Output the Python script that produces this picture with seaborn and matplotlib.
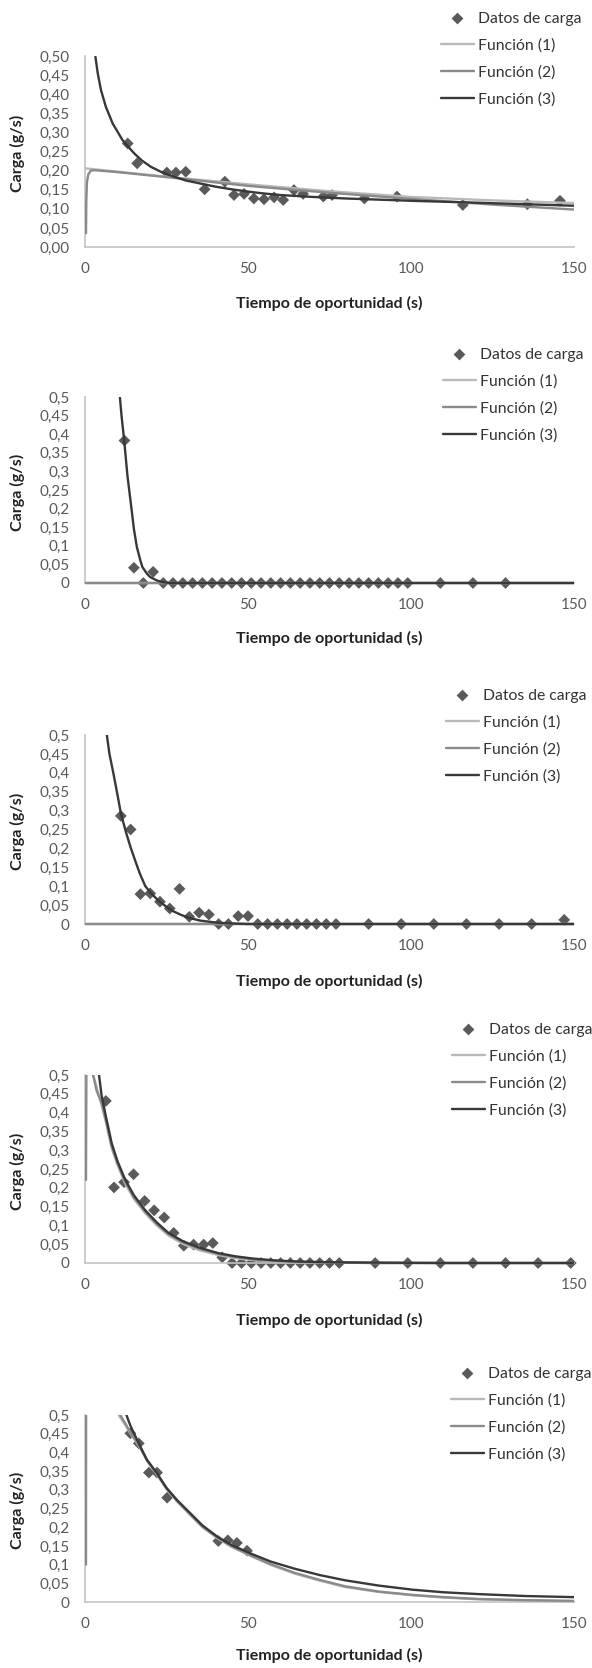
import matplotlib
matplotlib.use("Agg")
import matplotlib.pyplot as plt
import seaborn as sns

sns.set_style("white")
plt.rcParams["font.family"] = ["Lato", "DejaVu Sans"]

# ==========================================
# Data
# ==========================================

# Panel 1
t1_data = [13.1, 16.0, 25.1, 27.9, 30.9, 36.7, 42.9, 45.7, 48.8, 51.8, 54.9,
           58.0, 60.8, 64.1, 66.9, 73.1, 75.8, 85.7, 95.7, 115.9, 135.7, 145.7]
c1_data = [0.271, 0.219, 0.195, 0.195, 0.197, 0.151, 0.171, 0.136, 0.139, 0.127, 0.125,
           0.130, 0.123, 0.149, 0.139, 0.132, 0.136, 0.127, 0.132, 0.110, 0.112, 0.121]
p1_f1_x = [0, 25, 50, 75, 100, 125, 150]
p1_f1_y = [0.206, 0.184, 0.164, 0.146, 0.131, 0.122, 0.115]
p1_f2_x = [0.3, 0.4, 0.6, 1.0, 1.8, 3, 10, 25, 50, 75, 100, 125, 150]
p1_f2_y = [0.036, 0.12, 0.17, 0.19, 0.200, 0.201, 0.196, 0.183, 0.160, 0.142, 0.126, 0.111, 0.098]
p1_f3_x = [3.2, 3.9, 4.9, 6.4, 8.5, 11.5, 13.1, 15.1, 17.5, 20.2, 23.5, 27.3, 31, 35.5,
           40, 45, 50, 55, 60, 70, 80, 100, 120, 150]
p1_f3_y = [0.498, 0.455, 0.411, 0.367, 0.323, 0.280, 0.264, 0.245, 0.226, 0.210, 0.196, 0.184, 0.174, 0.166,
           0.158, 0.151, 0.145, 0.140, 0.136, 0.131, 0.127, 0.121, 0.116, 0.108]

# Panel 2
t2_data = [12.1, 15.0, 17.9, 20.9, 24, 27, 30, 33, 36, 39, 42, 45, 48, 51, 54, 57,
           60, 63, 66, 69, 72, 75, 78, 81, 84, 87, 90, 93, 96, 99, 109, 119, 129]
c2_data = [0.383, 0.041, 0.0, 0.030, 0, 0, 0, 0, 0, 0, 0, 0, 0, 0, 0, 0,
           0, 0, 0, 0, 0, 0, 0, 0, 0, 0, 0, 0, 0, 0, 0, 0, 0]
p2_f1_x = [0, 150]
p2_f1_y = [0.0, 0.0]
p2_f2_x = [0, 150]
p2_f2_y = [0.0, 0.0]
p2_f3_x = [10.7, 11.2, 12, 13, 14.2, 15, 15.9, 17, 17.6, 19, 20, 22, 23.5, 26, 150]
p2_f3_y = [0.5, 0.45, 0.385, 0.29, 0.204, 0.145, 0.097, 0.06, 0.043, 0.025, 0.016, 0.007, 0.003, 0.0, 0.0]

# Panel 3
t3_data = [11, 14, 17, 20, 23, 26, 29, 32, 35, 38, 41, 44, 47, 50, 53, 56, 59, 62, 65,
           68, 71, 74, 77, 87, 97, 107, 117, 127, 137, 147]
c3_data = [0.286, 0.250, 0.079, 0.081, 0.059, 0.041, 0.093, 0.019, 0.030, 0.025, 0, 0, 0.021,
           0.021, 0, 0, 0, 0, 0, 0, 0, 0, 0, 0, 0, 0, 0, 0, 0, 0.011]
p3_f1_x = [0, 150]
p3_f1_y = [0.0, 0.0]
p3_f2_x = [0, 150]
p3_f2_y = [0.0, 0.0]
p3_f3_x = [6.7, 7.5, 8.7, 10, 11, 12.5, 13.9, 15.5, 16.8, 18.5, 20.3, 22.5, 24.9, 27, 29.5,
           32, 35.3, 40, 43.4, 50, 150]
p3_f3_y = [0.5, 0.45, 0.399, 0.34, 0.293, 0.245, 0.205, 0.165, 0.134, 0.100, 0.081, 0.062, 0.046, 0.034, 0.024,
           0.016, 0.009, 0.004, 0.002, 0.0, 0.0]

# Panel 4
t4_data = [6.4, 8.9, 12.0, 14.9, 18.3, 21.2, 24.3, 27.2, 30.3, 33.3, 36.4, 39.2, 42.1, 45.1, 48, 51,
           54, 57, 60, 63, 66, 69, 72, 75, 78, 89, 99, 109, 119, 129, 139, 149]
c4_data = [0.431, 0.201, 0.215, 0.236, 0.165, 0.140, 0.121, 0.080, 0.046, 0.049, 0.049, 0.053, 0.015, 0, 0, 0,
           0, 0, 0, 0, 0, 0, 0, 0, 0, 0, 0, 0, 0, 0, 0, 0]
p4_f1_x = [2.5, 3.5, 5.1, 6.4, 8.2, 10, 12.3, 15, 18.5, 22, 25.6, 30, 35, 41, 46, 51.3, 58, 65, 75, 90, 150]
p4_f1_y = [0.5, 0.47, 0.42, 0.375, 0.305, 0.26, 0.212, 0.17, 0.132, 0.100, 0.073, 0.051, 0.034, 0.021, 0.013,
           0.008, 0.004, 0.002, 0.001, 0.0, 0.0]
p4_f2_x = [0.3, 0.45, 1.8, 2.5, 3.5, 5.1, 6.4, 8.2, 10, 12.3, 15, 18.5, 22, 25.6, 30, 35, 41, 46, 51.3,
           58, 65, 75, 90, 150]
p4_f2_y = [0.221, 0.56, 0.56, 0.5, 0.46, 0.425, 0.38, 0.31, 0.265, 0.217, 0.175, 0.136, 0.104, 0.077, 0.055,
           0.038, 0.024, 0.016, 0.010, 0.006, 0.003, 0.001, 0.0, 0.0]
p4_f3_x = [4.3, 5.1, 6.4, 8.2, 10, 12.3, 15, 18.5, 22, 25.6, 30, 35, 41, 46, 51.3, 58, 65, 75, 90, 110, 150]
p4_f3_y = [0.5, 0.445, 0.39, 0.318, 0.27, 0.222, 0.18, 0.140, 0.108, 0.080, 0.058, 0.041, 0.026, 0.018,
           0.012, 0.007, 0.004, 0.002, 0.001, 0.0, 0.0]

# Panel 5
t5_data = [13.9, 16.5, 19.6, 22.1, 25.2, 40.9, 43.8, 46.6, 49.7]
c5_data = [0.451, 0.424, 0.346, 0.346, 0.279, 0.163, 0.165, 0.158, 0.137]
p5_f1_x = [10.3, 12, 14, 16.5, 19, 22.1, 25, 28.3, 32, 36, 40.7, 45, 51, 57, 64.3, 72, 79.8, 90,
           100.4, 110, 121, 135, 150]
p5_f1_y = [0.5, 0.478, 0.45, 0.418, 0.378, 0.34, 0.302, 0.268, 0.235, 0.2, 0.17, 0.147, 0.122, 0.099,
           0.076, 0.057, 0.040, 0.027, 0.018, 0.012, 0.007, 0.004, 0.002]
p5_f2_x = [0.3, 0.35, 9, 10.8, 12.5, 14, 16.5, 19, 22.1, 25, 28.3, 32, 36, 40.7, 45, 51, 57, 64.3, 72,
           79.8, 90, 100.4, 110, 121, 135, 150]
p5_f2_y = [0.10, 0.6, 0.6, 0.5, 0.475, 0.452, 0.42, 0.38, 0.342, 0.304, 0.27, 0.237, 0.202, 0.172,
           0.149, 0.124, 0.101, 0.078, 0.059, 0.042, 0.028, 0.019, 0.013, 0.008, 0.005, 0.003]
p5_f3_x = [12.7, 14, 16.5, 19, 22.1, 25, 28.3, 32, 36, 40.7, 45, 51, 57, 64.3, 72, 79.8, 90, 100.4,
           110, 121, 135, 150]
p5_f3_y = [0.5, 0.47, 0.424, 0.38, 0.344, 0.305, 0.272, 0.24, 0.205, 0.174, 0.152, 0.129, 0.108, 0.089,
           0.072, 0.058, 0.044, 0.033, 0.026, 0.021, 0.016, 0.013]

x_ticks = [0, 50, 100, 150]
y_ticks = [0, 0.05, 0.1, 0.15, 0.2, 0.25, 0.3, 0.35, 0.4, 0.45, 0.5]
y_labels_p1 = ["0,00", "0,05", "0,10", "0,15", "0,20", "0,25", "0,30", "0,35", "0,40", "0,45", "0,50"]
y_labels = ["0", "0,05", "0,1", "0,15", "0,2", "0,25", "0,3", "0,35", "0,4", "0,45", "0,5"]

panels = [
    (t1_data, c1_data, p1_f1_x, p1_f1_y, p1_f2_x, p1_f2_y, p1_f3_x, p1_f3_y, y_labels_p1),
    (t2_data, c2_data, p2_f1_x, p2_f1_y, p2_f2_x, p2_f2_y, p2_f3_x, p2_f3_y, y_labels),
    (t3_data, c3_data, p3_f1_x, p3_f1_y, p3_f2_x, p3_f2_y, p3_f3_x, p3_f3_y, y_labels),
    (t4_data, c4_data, p4_f1_x, p4_f1_y, p4_f2_x, p4_f2_y, p4_f3_x, p4_f3_y, y_labels),
    (t5_data, c5_data, p5_f1_x, p5_f1_y, p5_f2_x, p5_f2_y, p5_f3_x, p5_f3_y, y_labels),
]

# pixel layout: top of axis (0.5), bottom of axis (0), legend handle left, legend centre, xlabel gap
layout = [
    (56, 247, 441, 59, 56),
    (397, 583, 443, 395, 55),
    (735, 924, 446, 736, 57),
    (1075, 1263, 452, 1070, 57),
    (1415, 1602, 451, 1414, 53),
]

W, H = 592, 1668
LEFT, RIGHT = 85, 574
Y_MIN = -0.012

col_data = "#5a5a5a"
col_f1 = "#b9b9b9"
col_f2 = "#8a8a8a"
col_f3 = "#383838"
col_axis = "#c3c3c3"
col_tick = "#595959"

fig = plt.figure(figsize=(W / 100, H / 100), dpi=100)

leg_fs = 11.3
fs_px = leg_fs * 100 / 72

for (t, c, x1, y1, x2, y2, x3, y3, ylabs), (top, bot, leg_left, leg_mid, gap) in zip(panels, layout):
    # axes box in figure fractions (bottom extended a little below zero)
    h_px = (bot - top) * (0.5 - Y_MIN) / 0.5
    extra = h_px - (bot - top)
    ax = fig.add_axes([LEFT / W, 1 - (top + h_px) / H, (RIGHT - LEFT) / W, h_px / H])

    sns.scatterplot(x=t, y=c, ax=ax, marker="D", s=36, color=col_data,
                    edgecolor="none", label="Datos de carga", zorder=2, clip_on=False)
    sns.lineplot(x=x1, y=y1, ax=ax, color=col_f1, lw=1.7, label="Función (1)",
                 estimator=None, sort=False, zorder=3)
    sns.lineplot(x=x2, y=y2, ax=ax, color=col_f2, lw=1.7, label="Función (2)",
                 estimator=None, sort=False, zorder=4)
    sns.lineplot(x=x3, y=y3, ax=ax, color=col_f3, lw=1.7, label="Función (3)",
                 estimator=None, sort=False, zorder=5)

    ax.set_xlim(0, 150)
    ax.set_ylim(Y_MIN, 0.5)
    ax.set_xticks(x_ticks)
    ax.set_yticks(y_ticks)
    ax.set_yticklabels(ylabs)

    for side in ["top", "right"]:
        ax.spines[side].set_visible(False)
    ax.spines["bottom"].set_position(("data", 0))
    ax.spines["left"].set_bounds(0, 0.5)
    for side in ["left", "bottom"]:
        ax.spines[side].set_color(col_axis)
        ax.spines[side].set_linewidth(1.2)

    ax.tick_params(axis="x", length=0, pad=11, labelsize=11, colors=col_tick)
    ax.tick_params(axis="y", length=0, pad=11, labelsize=11, colors=col_tick)

    ax.set_xlabel("Tiempo de oportunidad (s)", fontsize=11.5, fontweight="bold", color="#222222")
    ax.set_ylabel("Carga (g/s)", fontsize=11.5, fontweight="bold", color="#222222")
    ax.xaxis.set_label_coords(0.5, -(gap - extra) / h_px)
    ax.xaxis.label.set_va("center")
    ax.yaxis.set_label_coords((17 - LEFT) / (RIGHT - LEFT), 0.5)
    ax.yaxis.label.set_va("center")

    handles, labels = ax.get_legend_handles_labels()
    ax.legend(handles, labels, loc="center left",
              bbox_to_anchor=(leg_left / W, 1 - leg_mid / H), bbox_transform=fig.transFigure,
              frameon=False, borderpad=0, borderaxespad=0, fontsize=leg_fs,
              handlelength=33 / fs_px, handletextpad=4 / fs_px, labelspacing=0.8,
              scatterpoints=1, labelcolor="#333333")

plt.savefig("out.png", dpi=100)
